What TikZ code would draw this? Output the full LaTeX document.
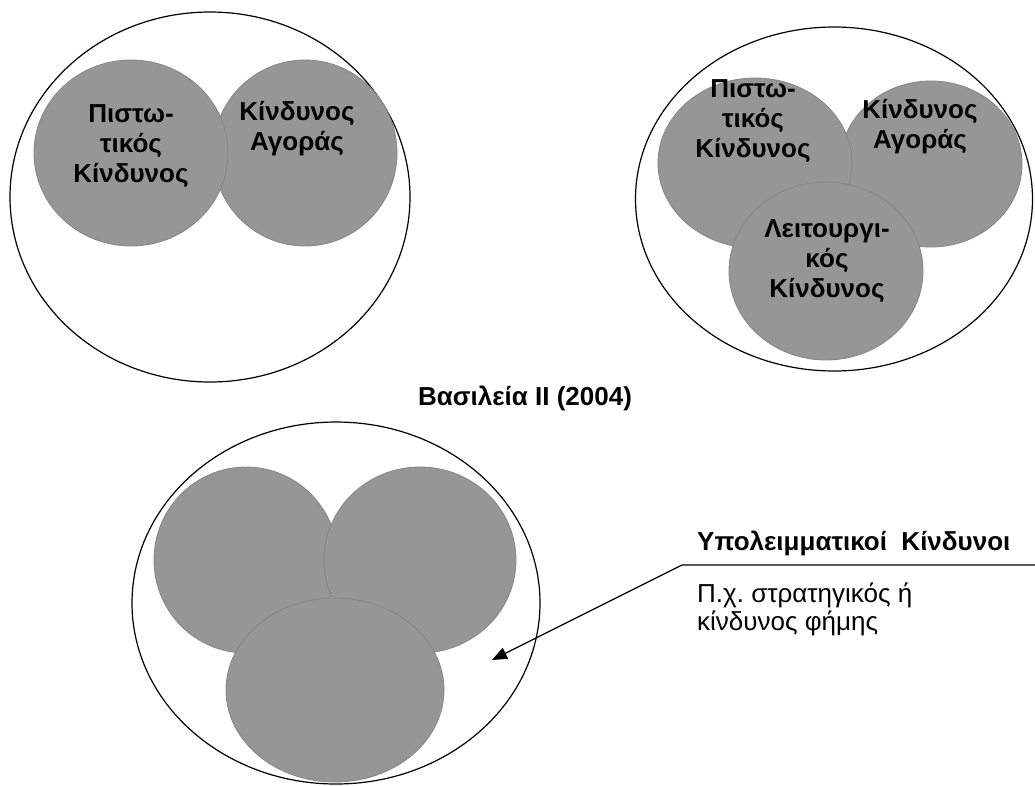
\documentclass[tikz,border=0pt]{standalone}
\usepackage{fontspec}
\setmainfont{Liberation Sans}
\usetikzlibrary{shapes.geometric,arrows.meta}
\frenchspacing
\definecolor{riskfill}{gray}{0.59}
\definecolor{riskedge}{gray}{0.52}
\tikzset{
  frame/.style={draw=black, line width=1.2pt, ellipse, inner sep=0pt},
  risk/.style={draw=riskedge, line width=0.8pt, fill=riskfill, ellipse, inner sep=0pt},
  % multi-line labels are placed by the baseline of their last line
  risklabel/.style={align=center, font=\bfseries\fontsize{26}{30}\selectfont, inner sep=0pt, anchor=base},
  heading/.style={font=\bfseries\fontsize{26}{30}\selectfont, inner sep=0pt, anchor=base},
  note/.style={align=left, font=\fontsize{26}{28}\selectfont, inner sep=0pt, anchor=base west},
  leader/.style={draw=black, line width=1.3pt, -{Triangle[length=15pt,width=12pt]}},
}
\begin{document}
\begin{tikzpicture}[x=1pt,y=-1pt]
\useasboundingbox (0,0) rectangle (1035,785);

% Basel I: credit and market risk
\node[frame, minimum width=400pt, minimum height=370pt] (frameA) at (210,197) {};
\node[risk, minimum width=184pt, minimum height=186pt] (marketA) at (305,153) {};
\node[risk, minimum width=194pt, minimum height=186pt] (creditA) at (131,153) {};
\node[risklabel] (creditAtxt) at (131,182) {Πιστω-\\τικός\\Κίνδυνος};
\node[risklabel] (marketAtxt) at (297,150) {Κίνδυνος\\Αγοράς};

% Basel II: credit, market and operational risk
\node[frame, minimum width=397pt, minimum height=344pt] (frameB) at (834,199) {};
\node[risk, minimum width=182pt, minimum height=166pt] (marketB) at (931,164) {};
\node[risk, minimum width=194pt, minimum height=170pt] (creditB) at (755,163) {};
\node[risk, minimum width=194pt, minimum height=178pt] (operB) at (826,271) {};
\node[risklabel] (creditBtxt) at (753,157) {Πιστω-\\τικός\\Κίνδυνος};
\node[risklabel] (marketBtxt) at (920,148) {Κίνδυνος\\Αγοράς};
\node[risklabel] (operBtxt) at (827,297) {Λειτουργι-\\κός\\Κίνδυνος};

\node[heading] (title) at (525,405) {Βασιλεία ΙΙ (2004)};

% Residual risks
\node[frame, minimum width=408pt, minimum height=362pt] (frameC) at (336,603) {};
\node[risk, minimum width=184pt, minimum height=186pt] (riskC1) at (246,560) {};
\node[risk, minimum width=192pt, minimum height=186pt] (riskC2) at (420,560) {};
\node[risk, minimum width=218pt, minimum height=184pt] (riskC3) at (335,690) {};

\node[heading, anchor=base west] (resid) at (697,550) {Υπολειμματικοί\ \ Κίνδυνοι};
\node[note] (example) at (697,630) {Π.χ. στρατηγικός ή\\κίνδυνος φήμης};

\coordinate (lineend) at (1035,565);
\coordinate (bend) at (682,565);
\coordinate (tip) at (492,660);
\draw[leader] (lineend) -- (bend) -- (tip);
\end{tikzpicture}
\end{document}
